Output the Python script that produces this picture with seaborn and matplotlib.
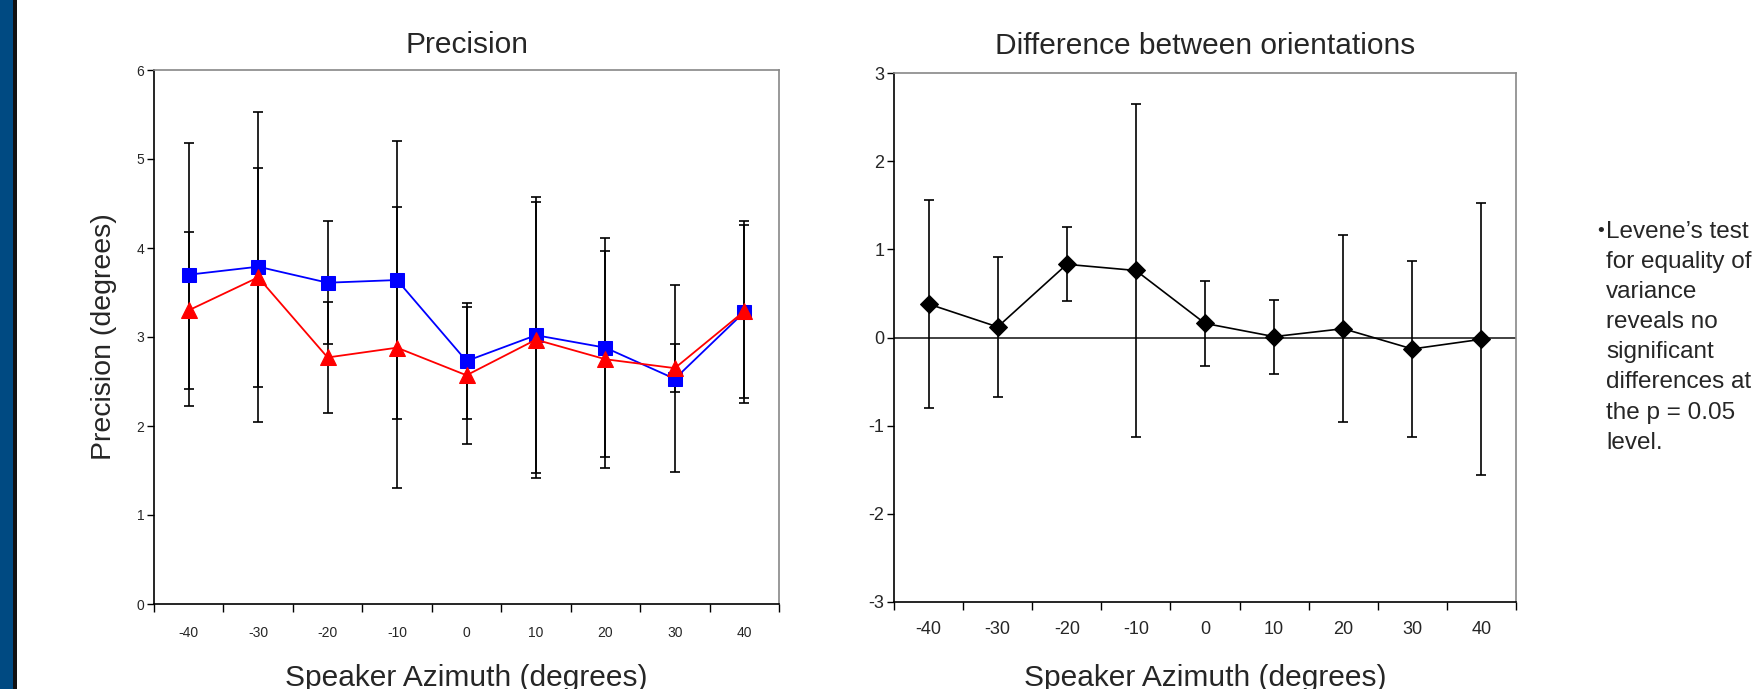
import matplotlib
matplotlib.use("Agg")
import matplotlib.pyplot as plt
from matplotlib.patches import Rectangle
import seaborn as sns

# data
azimuth = [-40, -30, -20, -10, 0, 10, 20, 30, 40]
blue_mean = [3.70, 3.79, 3.61, 3.64, 2.73, 3.02, 2.88, 2.53, 3.28]
blue_err = [1.48, 1.74, 0.69, 1.56, 0.65, 1.55, 1.23, 1.05, 1.02]
red_mean = [3.30, 3.67, 2.77, 2.88, 2.57, 2.97, 2.75, 2.65, 3.29]
red_err = [0.88, 1.23, 0.62, 1.58, 0.77, 1.55, 1.22, 0.27, 0.97]
diff_mean = [0.38, 0.12, 0.83, 0.76, 0.16, 0.01, 0.10, -0.13, -0.02]
diff_err = [1.18, 0.79, 0.42, 1.89, 0.48, 0.42, 1.06, 1.00, 1.54]
tick_labels = ["-40", "-30", "-20", "-10", "0", "10", "20", "30", "40"]
bullet_text = ["Levene\u2019s test", "for equality of", "variance", "reveals no",
               "significant", "differences at", "the p = 0.05", "level."]

sns.set_style("ticks")
plt.rcParams['font.family'] = ['Liberation Sans', 'DejaVu Sans']
plt.rcParams['axes.unicode_minus'] = False

W, H = 1763, 689
fig = plt.figure(figsize=(W / 100, H / 100), dpi=100)
fig.patches.append(Rectangle((0, 0), 13 / W, 1, transform=fig.transFigure,
                             facecolor='#004a82', edgecolor='none', zorder=0))
fig.patches.append(Rectangle((13 / W, 0), 4 / W, 1, transform=fig.transFigure,
                             facecolor='#111111', edgecolor='none', zorder=0))


def box(left, top, right, bottom):
    return [left / W, 1 - bottom / H, (right - left) / W, (bottom - top) / H]


def style_axes(ax, lab_size, pad):
    ax.set_xlim(-45, 45)
    ax.set_xticks([a - 5 for a in azimuth] + [45], minor=True)
    ax.set_xticks(azimuth)
    ax.set_xticklabels(tick_labels)
    ax.tick_params(axis='x', which='major', length=0, pad=pad, labelsize=lab_size)
    ax.tick_params(axis='x', which='minor', length=6, width=1, color='black', direction='out')
    ax.tick_params(axis='y', length=5, width=1, color='black', direction='out',
                   labelsize=lab_size, pad=2)
    for s in ['top', 'right']:
        ax.spines[s].set_color('#888888')
        ax.spines[s].set_linewidth(1.2)
    for s in ['left', 'bottom']:
        ax.spines[s].set_color('black')
        ax.spines[s].set_linewidth(1.2)


# left: precision
ax1 = fig.add_axes(box(154, 70, 779, 604))
ax1.errorbar(azimuth, blue_mean, yerr=blue_err, fmt='none', ecolor='black',
             elinewidth=1.2, capsize=3.5, capthick=1.2, zorder=2)
ax1.errorbar(azimuth, red_mean, yerr=red_err, fmt='none', ecolor='black',
             elinewidth=1.2, capsize=3.5, capthick=1.2, zorder=2)
sns.lineplot(x=azimuth, y=blue_mean, ax=ax1, color='#0000ff', marker='s',
             markersize=10, markeredgecolor='#0000ff', linewidth=1.3, zorder=3)
sns.lineplot(x=azimuth, y=red_mean, ax=ax1, color='#ff0000', marker='^',
             markersize=11, markeredgecolor='#ff0000', linewidth=1.3, zorder=4)
ax1.set_ylim(0, 6)
ax1.set_yticks(range(0, 7))
style_axes(ax1, 10, 16)
ax1.set_title('Precision', fontsize=21.5, pad=12)
ax1.set_ylabel('Precision (degrees)', fontsize=20.5, labelpad=14)
ax1.set_xlabel('Speaker Azimuth (degrees)', fontsize=21.5, va='baseline')
ax1.xaxis.set_label_coords(0.5, (604 - 686) / 534)

# right: difference
ax2 = fig.add_axes(box(894, 73, 1516, 602))
ax2.axhline(0, color='#333333', linewidth=1.3, zorder=1)
ax2.errorbar(azimuth, diff_mean, yerr=diff_err, fmt='none', ecolor='black',
             elinewidth=1.2, capsize=3.5, capthick=1.2, zorder=2)
sns.lineplot(x=azimuth, y=diff_mean, ax=ax2, color='black', marker='D',
             markersize=9, markeredgecolor='black', linewidth=1.2, zorder=3)
ax2.set_ylim(-3, 3)
ax2.set_yticks(range(-3, 4))
style_axes(ax2, 13, 14)
ax2.set_title('Difference between orientations', fontsize=21.5, pad=14)
ax2.set_xlabel('Speaker Azimuth (degrees)', fontsize=21.5, va='baseline')
ax2.xaxis.set_label_coords(0.5, (602 - 686) / 529)

# bullet note
fig.text(1597 / W, 1 - 232 / H, '\u2022', fontsize=14, va='center', ha='left')
for i, line in enumerate(bullet_text):
    fig.text(1606 / W, 1 - (232 + 30.1 * i) / H, line, fontsize=17.5,
             va='center', ha='left')

fig.savefig('out.png', dpi=100)
